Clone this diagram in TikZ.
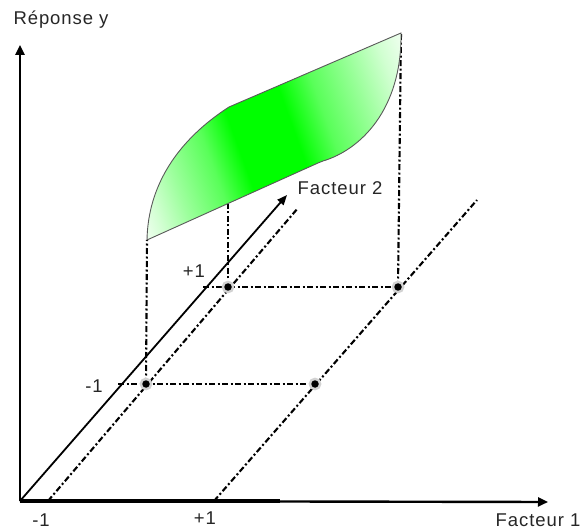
\documentclass[tikz,border=0pt]{standalone}
\usepackage{fontspec}
\setmainfont{Liberation Sans}[LetterSpace=5]
\usetikzlibrary{arrows.meta,backgrounds}
\pgfdeclarehorizontalshading{surfsh}{100bp}{%
  color(0bp)=(green!5); color(27bp)=(green!5); color(30bp)=(green!18);
  color(34bp)=(green!38); color(40bp)=(green!65); color(44.5bp)=(green);
  color(53bp)=(green); color(58bp)=(green!65); color(64bp)=(green!40);
  color(69bp)=(green!18); color(73bp)=(green!5); color(100bp)=(green!5)}
\begin{document}
\begin{tikzpicture}[x=1pt,y=1pt,
  axis/.style={line width=2.4pt, -{Triangle[length=10pt,width=9pt]}},
  dd/.style={line width=2.1pt, dash pattern=on 6pt off 2.5pt on 2pt off 2.5pt},
  pt/.style={circle, fill=black, inner sep=0pt, minimum size=7.5pt,
             preaction={draw=gray!35, line width=5pt}},
  lbl/.style={font=\fontsize{18.5}{22}\selectfont, inner sep=0pt, text=black!85},
  rim/.style={draw=gray!70!black, line width=0.9pt}]
\useasboundingbox (0,0) rectangle (582,-532);

% named positions
\coordinate (O) at (20,-501);
\coordinate (Ytip) at (20,-45);
\coordinate (Xtip) at (548,-502);
\coordinate (Xthick) at (280,-501);
\coordinate (F2tip) at (287,-195);
\coordinate (Lm0) at (48,-501);
\coordinate (Lm1) at (298,-208);
\coordinate (Lp0) at (214,-501);
\coordinate (Lp1) at (477,-200);
\coordinate (Rm0) at (118,-384);
\coordinate (Rp0) at (203,-287);
\coordinate (S1) at (147,-240);
\coordinate (S2) at (229,-107);
\coordinate (S3) at (401,-33);
\coordinate (S4) at (323,-161);
\coordinate (S5) at (318,-163);
\coordinate (Sb) at (228,-204);

% surface
\def\surfpath{(S1) .. controls (148,-185) and (178,-140) .. (S2) -- (S3)
   .. controls (402,-110) and (360,-150) .. (S4) -- (S5) -- cycle}
\begin{scope}
  \clip \surfpath;
  \begin{scope}[transform canvas={rotate around={20:(274,-136)}}]
    \shade[shading=surfsh] (104,-386) rectangle (444,114);
  \end{scope}
\end{scope}
\path[rim] \surfpath;

% design points
\node[pt] (mm) at (146,-384) {};
\node[pt] (pm) at (315,-384) {};
\node[pt] (mp) at (228,-287) {};
\node[pt] (pp) at (398,-287) {};

\begin{scope}[on background layer]
  \draw[dd] (Lm0) -- (Lm1);
  \draw[dd] (Lp0) -- (Lp1);
  \draw[dd] (Rm0) -- (pm.center);
  \draw[dd] (Rp0) -- (pp.center);
  \draw[dd] (mm.center) -- (S1);
  \draw[dd] (mp.center) -- (Sb);
  \draw[dd] (pp.center) -- (S3);
\end{scope}

% axes
\draw[axis] (O) -- (Ytip);
\draw[axis] (O) -- (Xtip);
\draw[line width=3.2pt] (O) -- (Xthick);
\draw[line width=1.8pt, -{Triangle[length=10pt,width=8pt]}] (O) -- (F2tip);

% labels
\node[lbl] (ty) at (61,-20) {Réponse y};
\node[lbl] (tf1) at (538,-520) {Facteur 1};
\node[lbl] (tf2) at (340,-188) {Facteur 2};
\node[lbl] (xm) at (41,-520) {-1};
\node[lbl] (xp) at (205,-518) {+1};
\node[lbl] (rm) at (94,-386) {-1};
\node[lbl] (rp) at (194,-271) {+1};
\end{tikzpicture}
\end{document}
